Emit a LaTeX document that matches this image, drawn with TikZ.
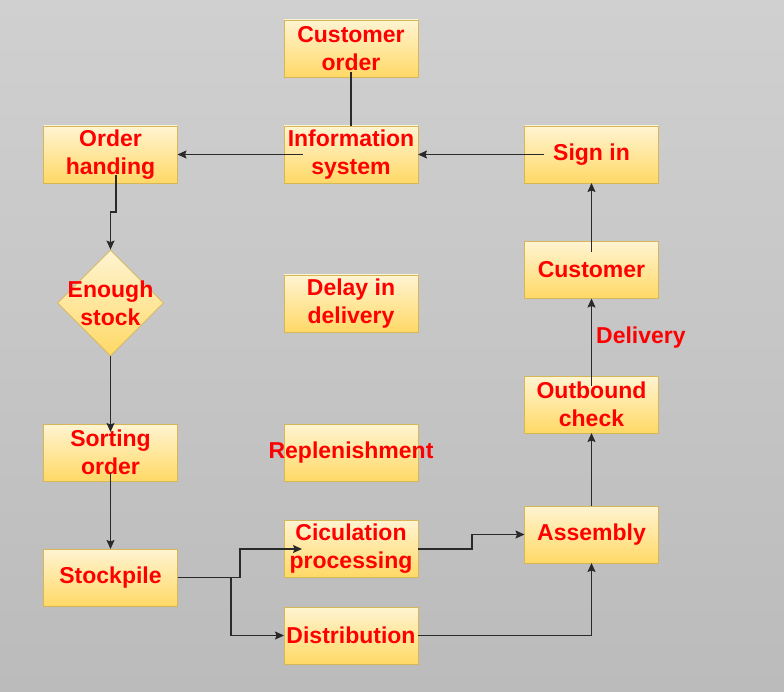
\documentclass[tikz,border=0pt]{standalone}
\usepackage{fontspec}
\setmainfont{Liberation Sans}
\usetikzlibrary{arrows.meta,shapes.geometric}
\definecolor{bgtop}{HTML}{D0D0D0}
\definecolor{bgbot}{HTML}{BBBBBB}
\definecolor{boxtop}{HTML}{FFF4D2}
\definecolor{boxbot}{HTML}{FFD966}
\definecolor{boxline}{HTML}{D6B656}
\definecolor{txtred}{HTML}{FF0000}
\definecolor{linec}{HTML}{2A2A2A}
\tikzset{
  boxnode/.style={rectangle, draw=boxline, line width=0.8pt, top color=boxtop, bottom color=boxbot,
    minimum width=134pt, minimum height=57pt, inner sep=0pt, outer sep=0pt,
    font=\fontsize{23}{28}\selectfont\bfseries, text=txtred, align=center},
  txtnode/.style={inner sep=0pt, font=\fontsize{23}{28}\selectfont\bfseries, text=txtred, align=center},
  conn/.style={draw=linec, line width=1.1pt},
  arr/.style={conn, -{Stealth[length=9pt,width=8pt,inset=1.5pt]}}
}
\begin{document}
\begin{tikzpicture}[x=1pt,y=-1pt]
\useasboundingbox (0,0) rectangle (784,692);
\shade[top color=bgtop, bottom color=bgbot] (0,0) rectangle (784,692);

% nodes
\node[boxnode] (co) at (351,48.5) {Customer\\order};
\node[boxnode] (is) at (351,154.5) {Information\\system};
\node[boxnode] (oh) at (110.5,154.5) {Order\\handing};
\node[boxnode] (si) at (591.5,154.5) {Sign in};
\node[boxnode] (cu) at (591.5,270) {Customer};
\node[boxnode] (dd) at (351,303.5) {Delay in\\delivery};
\node[diamond, draw=boxline, line width=0.8pt, top color=boxtop, bottom color=boxbot,
      minimum width=106pt, minimum height=106pt, inner sep=0pt] (es) at (110.5,303) {};
\node[txtnode] (estxt) at (es.center) {Enough\\stock};
\node[boxnode] (oc) at (591.5,404.5) {Outbound\\check};
\node[boxnode] (so) at (110.5,452.5) {Sorting\\order};
\node[boxnode] (rep) at (351,452.5) {};
\node[txtnode] (reptxt) at (rep.center) {Replenishment};
\node[boxnode] (asm) at (591.5,534.5) {Assembly};
\node[boxnode] (cp) at (351,549) {Ciculation\\processing};
\node[boxnode] (sp) at (110.5,577.5) {Stockpile};
\node[boxnode] (dist) at (351,635.5) {Distribution};
\node[txtnode, anchor=west] (dlv) at (596,338) {Delivery};

% bend coordinates
\coordinate (k1) at (116,212);
\coordinate (k2) at (110.5,212);
\coordinate (k3) at (240,577.5);
\coordinate (k4) at (240,549);
\coordinate (k5) at (231,577.5);
\coordinate (k6) at (231,635.5);
\coordinate (k7) at (472,549);
\coordinate (k8) at (472,534.5);

% connectors
\draw[conn] ([yshift=-23.5pt]co.center) -- (is.north);
\draw[arr] ([xshift=19pt]is.west) -- (oh.east);
\draw[arr] ([xshift=19pt]si.west) -- (is.east);
\draw[arr] ([xshift=5.5pt,yshift=8pt]oh.south) -- (k1) -- (k2) -- (es.north);
\draw[arr] (es.south) -- ([yshift=-8pt]so.north);
\draw[arr] ([yshift=-20.5pt]so.center) -- (sp.north);
\draw[arr] (sp.east) -- (k3) -- (k4) -- ([xshift=18pt]cp.west);
\draw[arr] (k5) -- (k6) -- (dist.west);
\draw[arr] (cp.east) -- (k7) -- (k8) -- (asm.west);
\draw[arr] (dist.east) -| (asm.south);
\draw[arr] (asm.north) -- (oc.south);
\draw[arr] ([yshift=18.5pt]oc.center) -- (cu.south);
\draw[arr] ([yshift=18pt]cu.center) -- (si.south);
\end{tikzpicture}
\end{document}
